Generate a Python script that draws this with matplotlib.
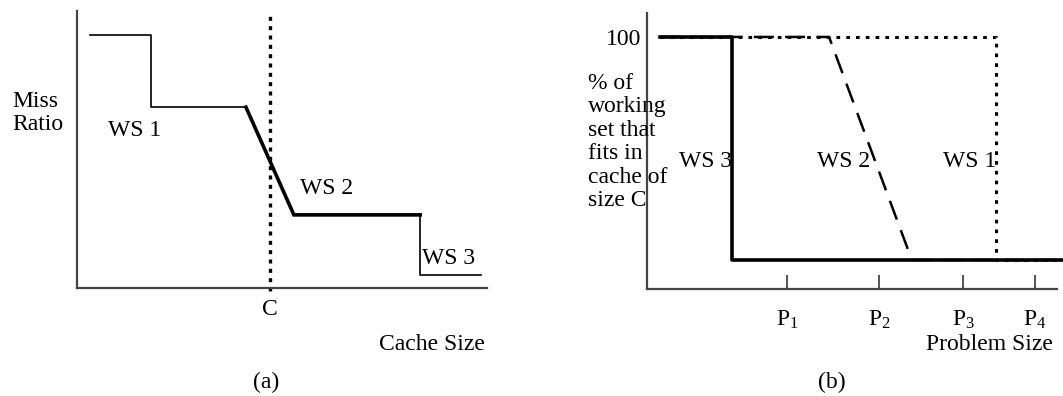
import matplotlib
matplotlib.use("Agg")
import matplotlib.pyplot as plt

plt.rcParams['font.family'] = ['Liberation Serif', 'DejaVu Serif']
plt.rcParams['mathtext.fontset'] = 'custom'
plt.rcParams['mathtext.rm'] = 'Liberation Serif'
plt.rcParams['mathtext.it'] = 'Liberation Serif:italic'

# ---- Panel (a): miss ratio vs cache size ----
a_thin1_x = [3.2, 18.0, 18.0, 41.2]
a_thin1_y = [91.3, 91.3, 65.3, 65.3]
a_thick_x = [41.2, 52.9, 83.7]
a_thick_y = [65.3, 26.4, 26.4]
a_thin2_x = [83.7, 83.7, 98.5]
a_thin2_y = [26.4, 4.7, 4.7]
a_cache_c = 47.1
a_ws_labels = ["WS 1", "WS 2", "WS 3"]
a_ws_pos = [(7.6, 57.0), (54.4, 36.1), (84.1, 10.8)]

# ---- Panel (b): % of working set that fits vs problem size ----
b_ws3_x = [3.2, 20.7, 20.7, 101.5]
b_ws3_y = [100, 100, 11.5, 11.5]
b_ws2_x = [3.2, 44.4, 64.6, 101.5]
b_ws2_y = [100, 100, 11.5, 11.5]
b_ws1_x = [3.2, 85.1, 85.1, 101.5]
b_ws1_y = [100, 100, 11.5, 11.5]
b_ticks = [34.1, 56.6, 77.1, 94.6]
b_tick_labels = [r"$\mathrm{P}_1$", r"$\mathrm{P}_2$", r"$\mathrm{P}_3$", r"$\mathrm{P}_4$"]
b_ws_labels = ["WS 3", "WS 2", "WS 1"]
b_ws_pos = [(7.8, 50.4), (41.5, 50.4), (72.2, 50.4)]

W, H = 1063, 396
fig = plt.figure(figsize=(W / 100, H / 100), dpi=100)

def fx(px):
    return px / W

def fy(py):
    return 1 - py / H

FS = 17
axis_col = '#444444'

# Panel (a) axes: px x 77..487, y 11..288
axa = fig.add_axes([fx(77), fy(288), fx(487 - 77), (288 - 11) / H])
axa.set_xlim(0, 100)
axa.set_ylim(0, 100)
for s in ['top', 'right']:
    axa.spines[s].set_visible(False)
for s in ['left', 'bottom']:
    axa.spines[s].set_color(axis_col)
    axa.spines[s].set_linewidth(1.6)
axa.plot(a_thin1_x, a_thin1_y, color='black', lw=1.2)
axa.plot(a_thick_x, a_thick_y, color='black', lw=2.6, solid_joinstyle='miter')
axa.plot(a_thin2_x, a_thin2_y, color='black', lw=1.2)
axa.plot([a_cache_c, a_cache_c], [-1, 100], color='black', lw=2.4,
         linestyle=(0, (1.2, 1.6)), clip_on=False)
axa.set_xticks([a_cache_c])
axa.set_xticklabels(["C"], fontsize=FS)
axa.tick_params(axis='x', length=0, pad=8)
axa.set_yticks([])
for lab, (x, y) in zip(a_ws_labels, a_ws_pos):
    axa.text(x, y, lab, fontsize=FS, ha='left', va='center')

fig.text(fx(12), fy(113), "Miss\nRatio", fontsize=FS, ha='left', va='center', linespacing=1.1)
fig.text(fx(485), fy(345), "Cache Size", fontsize=FS, ha='right', va='center')
fig.text(fx(266), fy(382), "(a)", fontsize=FS, ha='center', va='center')

# Panel (b) axes: px x 647..1057, y 13..289
axb = fig.add_axes([fx(647), fy(289), fx(1057 - 647), (289 - 13) / H])
axb.set_xlim(0, 100)
axb.set_ylim(0, 109.5)
for s in ['top', 'right']:
    axb.spines[s].set_visible(False)
for s in ['left', 'bottom']:
    axb.spines[s].set_color(axis_col)
    axb.spines[s].set_linewidth(1.6)
axb.plot(b_ws1_x, b_ws1_y, color='black', lw=2.2, linestyle=(0, (1.2, 2.0)), clip_on=False)
axb.plot(b_ws2_x, b_ws2_y, color='black', lw=1.8, linestyle=(0, (8, 4.5)), clip_on=False)
axb.plot(b_ws3_x, b_ws3_y, color='black', lw=2.6, clip_on=False)
axb.set_xticks(b_ticks)
axb.set_xticklabels(b_tick_labels, fontsize=FS)
axb.tick_params(axis='x', direction='in', length=10, width=1.3, color=axis_col, pad=14)
axb.set_yticks([100])
axb.set_yticklabels(["100"], fontsize=FS)
axb.tick_params(axis='y', length=0, pad=4)
for lab, (x, y) in zip(b_ws_labels, b_ws_pos):
    axb.text(x, y, lab, fontsize=FS, ha='left', va='center')

fig.text(fx(588), fy(142), "% of\nworking\nset that\nfits in\ncache of\nsize C",
         fontsize=FS, ha='left', va='center', linespacing=1.15)
fig.text(fx(1053), fy(345), "Problem Size", fontsize=FS, ha='right', va='center')
fig.text(fx(832), fy(382), "(b)", fontsize=FS, ha='center', va='center')

fig.savefig("out.png", dpi=100, facecolor='white')
